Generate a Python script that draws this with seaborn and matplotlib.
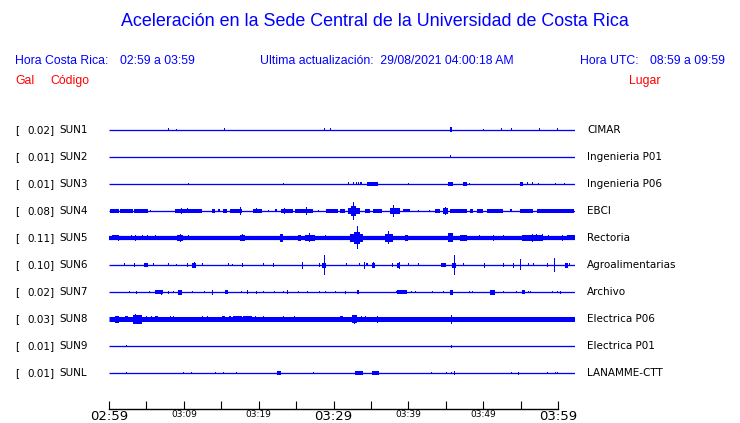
import matplotlib
matplotlib.use("Agg")
import matplotlib.pyplot as plt
import matplotlib.transforms as mtransforms
import pandas as pd
import seaborn as sns

# station metadata
stations = ["SUN1", "SUN2", "SUN3", "SUN4", "SUN5", "SUN6", "SUN7", "SUN8", "SUN9", "SUNL"]
peak_gal = ["0.02", "0.01", "0.01", "0.08", "0.11", "0.10", "0.02", "0.03", "0.01", "0.01"]
places = ["CIMAR", "Ingenieria P01", "Ingenieria P06", "EBCI", "Rectoria",
          "Agroalimentarias", "Archivo", "Electrica P06", "Electrica P01", "LANAMME-CTT"]

# trace span in minutes after 02:59 and base trace thickness (px)
trace_span = [0.0, 62.27]
base_px = [1.3, 1.3, 1.3, 1.3, 4.2, 1.3, 1.3, 5.0, 1.3, 1.3]

tick_minutes = [0, 5, 10, 15, 20, 25, 30, 35, 40, 45, 50, 55, 60]
tick_labels = ["02:59", "", "03:09", "", "03:19", "", "03:29", "", "03:39", "", "03:49", "", "03:59"]
big_ticks = ["02:59", "03:29", "03:59"]

# bursts: (start minute, end minute, half amplitude in px)
sun1_bursts = [(7.92, 7.92, 1.5), (8.99, 8.99, 1), (15.41, 15.41, 1.5), (28.77, 28.77, 1.5),
               (29.57, 29.57, 1.5), (45.5, 45.8, 2.5), (50.02, 50.02, 1), (52.42, 52.42, 1.5),
               (53.76, 53.76, 1.5), (57.42, 57.42, 1.5), (59.91, 59.91, 1.5)]
sun2_bursts = [(45.55, 45.75, 1.5)]
sun3_bursts = [(10.6, 10.6, 1), (23.29, 23.29, 1), (31.98, 31.98, 1.5), (32.56, 32.56, 1.5),
               (32.97, 32.97, 1.5), (33.32, 33.32, 1.5), (33.6, 33.75, 1.5), (34.44, 36.0, 2),
               (39.92, 39.92, 1), (45.34, 45.92, 2), (47.27, 47.88, 2), (48.07, 48.07, 1),
               (54.92, 55.37, 2), (55.9, 55.9, 1.5), (56.49, 56.49, 1.5), (57.37, 57.37, 1),
               (59.64, 59.64, 1), (60.8, 60.8, 1)]
sun4_bursts = [(0.13, 1.3, 1.7), (1.5, 3.2, 1.7), (3.3, 5.25, 1.7), (5.5, 5.5, 1),
               (8.82, 12.39, 1.7), (9.62, 9.62, 3), (10.38, 10.38, 2.5), (13.72, 14.16, 1.7),
               (14.6, 14.8, 1.5), (15.27, 15.72, 1.7), (16.17, 17.73, 2), (17.51, 17.51, 4),
               (19.2, 20.4, 2), (19.7, 19.7, 2.5), (21.2, 21.2, 1.2), (22.18, 22.41, 1.5),
               (22.99, 24.63, 2), (23.43, 23.43, 3), (24.86, 27.3, 2), (26.28, 26.28, 4),
               (27.97, 27.97, 1.2), (28.96, 30.64, 2), (30.87, 31.54, 2), (31.98, 33.54, 3),
               (32.3, 33.0, 5), (32.65, 32.65, 9), (34.21, 34.88, 2), (35.32, 36.44, 2),
               (37.55, 38.89, 3), (37.99, 37.99, 6), (39.33, 40.22, 1.5), (41.25, 41.25, 1.2),
               (42.8, 42.8, 1.2), (43.57, 44.23, 2), (44.67, 45.34, 3), (44.9, 44.9, 4),
               (45.57, 47.8, 2), (48.24, 48.68, 2), (49.13, 50.02, 2), (50.47, 52.69, 2),
               (53.59, 53.8, 1.5), (54.92, 56.7, 2), (57.15, 62.2, 2)]
sun5_bursts = [(0.36, 1.25, 2.5), (1.16, 1.16, 3.2), (3.0, 3.0, 2.5), (3.47, 3.47, 2.8),
               (4.4, 4.4, 2.5), (5.1, 5.1, 2.5), (6.2, 6.2, 2.5), (9.05, 9.93, 3.3),
               (9.5, 9.5, 3.8), (10.5, 10.5, 2.5), (17.51, 18.17, 3), (17.8, 17.8, 3.5),
               (22.85, 23.29, 4), (25.3, 25.6, 2.8), (26.19, 27.53, 3), (26.73, 26.73, 4.5),
               (28.9, 28.9, 2.5), (32.21, 33.98, 4), (32.7, 33.6, 6), (33.18, 33.18, 11.5),
               (36.88, 37.99, 4), (37.32, 37.32, 6.5), (39.6, 40.0, 3), (45.34, 46.0, 4.5),
               (46.9, 47.8, 3), (49.5, 49.5, 2.5), (51.36, 51.36, 3), (52.6, 52.6, 2.5),
               (55.14, 58.03, 3), (56.49, 56.49, 4), (57.1, 57.1, 3.5), (57.8, 57.8, 3.5),
               (58.6, 58.6, 2.5), (60.49, 60.49, 3), (61.16, 62.27, 2.5)]
sun6_bursts = [(2.0, 2.0, 1.5), (3.34, 3.34, 2), (4.72, 5.25, 1.7), (5.92, 5.92, 1.5),
               (7.92, 7.92, 1.5), (8.91, 8.91, 1), (10.46, 10.46, 2), (11.13, 11.58, 2.5),
               (11.3, 11.3, 3), (12.47, 12.47, 1.5), (15.86, 15.86, 1.5), (16.4, 16.4, 1),
               (17.73, 17.95, 1.7), (20.54, 20.54, 1.5), (21.96, 21.96, 2), (25.75, 25.75, 3.5),
               (28.06, 28.06, 2), (28.5, 29.04, 2.5), (28.69, 28.69, 10), (31.63, 31.63, 1.5),
               (33.41, 33.41, 1.5), (34.12, 34.12, 3.5), (34.3, 34.6, 1.5), (35.2, 35.5, 2.5),
               (35.32, 35.32, 3.3), (37.77, 37.77, 2), (38.52, 38.75, 2.5), (38.7, 38.7, 3.5),
               (40.0, 40.0, 1.5), (41.25, 41.25, 1.5), (44.37, 45.0, 1.7), (45.9, 46.4, 2.5),
               (46.14, 46.14, 10), (47.27, 47.27, 1.5), (50.15, 50.15, 2.5), (52.69, 52.69, 2),
               (54.03, 54.03, 2.5), (54.97, 54.97, 5.5), (55.94, 55.94, 1.5), (56.7, 56.7, 1.5),
               (58.49, 58.49, 2), (59.51, 59.51, 7), (61.0, 61.3, 2.5), (61.51, 61.51, 1.5)]
sun7_bursts = [(2.72, 2.72, 1), (3.61, 3.61, 1.5), (5.39, 5.39, 1), (6.15, 7.26, 2),
               (7.0, 7.0, 2.5), (7.84, 7.84, 1.5), (8.6, 8.6, 1), (9.18, 9.71, 2.5),
               (11.05, 11.05, 1), (12.74, 12.74, 1), (13.81, 13.81, 2.5), (15.5, 15.94, 1.7),
               (17.6, 17.6, 1), (18.4, 18.4, 2), (19.64, 19.64, 1.5), (20.6, 20.6, 1),
               (22.1, 22.1, 1), (23.2, 23.2, 1), (23.74, 23.74, 1.7), (25.3, 25.3, 1),
               (26.5, 26.5, 1), (28.1, 28.1, 1), (28.9, 28.9, 1), (30.2, 30.2, 1),
               (31.54, 31.54, 1.5), (33.1, 33.4, 2), (38.3, 38.3, 1), (38.52, 39.78, 1.7),
               (40.3, 40.3, 1), (40.9, 40.9, 1), (43.12, 43.12, 1), (44.6, 44.6, 1),
               (45.57, 46.0, 2.5), (48.1, 48.1, 1), (48.5, 48.5, 1), (50.92, 51.58, 2.5),
               (52.6, 52.6, 1), (54.4, 54.4, 1), (55.14, 55.59, 2), (56.0, 56.0, 1),
               (56.2, 56.2, 1), (59.2, 59.2, 1), (59.8, 59.8, 1), (60.27, 60.27, 1.5)]
sun8_bursts = [(0.8, 1.34, 3.5), (2.14, 2.5, 3), (3.25, 4.37, 4.5), (3.5, 3.5, 5),
               (4.1, 4.1, 4.5), (4.9, 4.9, 3), (5.57, 5.57, 3), (6.15, 6.51, 3),
               (8.2, 8.2, 3), (8.6, 8.6, 3), (12.39, 12.39, 3), (13.05, 13.05, 3),
               (15.06, 15.5, 3.2), (16.1, 16.1, 3), (16.61, 17.73, 3.2), (17.95, 19.07, 3.2),
               (19.51, 19.51, 3.2), (20.62, 20.62, 3), (23.3, 23.3, 2.8), (24.7, 24.7, 2.8),
               (30.9, 31.3, 3), (32.43, 33.1, 4), (32.7, 32.7, 4.5), (33.7, 33.7, 3),
               (34.2, 34.2, 3), (35.77, 35.77, 3.5), (45.7, 45.7, 4.5)]
sun9_bursts = [(2.23, 2.23, 1), (45.7, 45.7, 1.5)]
sunl_bursts = [(2.27, 2.27, 1), (9.93, 9.93, 1), (10.92, 10.92, 1), (14.17, 14.17, 1),
               (15.27, 15.27, 1), (16.93, 16.93, 1), (22.41, 22.99, 1.7), (27.22, 27.22, 1.3),
               (32.87, 33.9, 1.7), (35.1, 36.08, 1.7), (43.03, 43.03, 1.3), (45.0, 45.0, 1),
               (45.7, 45.7, 1.3), (46.15, 46.15, 2), (53.72, 53.72, 1.3), (54.61, 54.61, 1.5),
               (58.49, 58.49, 1), (59.6, 59.6, 1), (59.8, 59.8, 1)]

all_bursts = [sun1_bursts, sun2_bursts, sun3_bursts, sun4_bursts, sun5_bursts,
              sun6_bursts, sun7_bursts, sun8_bursts, sun9_bursts, sunl_bursts]

BLUE = "#0000ff"
RED = "#ff0000"
W, H = 740, 423
PX_PER_TRACE = 27.0

sns.set_theme(style="white")
plt.rcParams["font.family"] = ["DejaVu Sans"]
plt.rcParams["text.color"] = "black"

fig = plt.figure(figsize=(W / 100, H / 100), dpi=100)
ax = fig.add_axes([109 / W, 14 / H, (575 - 109) / W, 299 / H])

# baselines (one row per station, long format)
rows = []
for i, st in enumerate(stations):
    for t in trace_span:
        rows.append({"station": st, "minute": t, "level": -i})
traces = pd.DataFrame(rows)

for i, st in enumerate(stations):
    sns.lineplot(data=traces[traces["station"] == st], x="minute", y="level",
                 color=BLUE, linewidth=base_px[i] * 0.72, ax=ax, legend=False,
                 solid_capstyle="butt")
    # bursts as filled blocks around the trace
    for t0, t1, amp in all_bursts[i]:
        half = amp / PX_PER_TRACE
        width = max(t1 - t0, 0.14)
        ax.bar(t0, 2 * half, width=width, bottom=-i - half, align="edge",
               color=BLUE, linewidth=0)

ax.set_xlim(trace_span)
ax.set_ylim(-9 - 36 / PX_PER_TRACE, 20 / PX_PER_TRACE)
ax.set_xlabel("")
ax.set_ylabel("")
ax.set_yticks([])
for side in ["top", "right", "left"]:
    ax.spines[side].set_visible(False)
ax.spines["bottom"].set_color("black")
ax.spines["bottom"].set_linewidth(1.0)
ax.spines["bottom"].set_bounds(tick_minutes[0], tick_minutes[-1])
ax.set_xticks(tick_minutes)
ax.set_xticklabels(tick_labels)
ax.tick_params(axis="x", direction="in", length=6, width=0.8, color="black",
               pad=0.5, bottom=True, labelcolor="black")
for lab in ax.get_xticklabels():
    if lab.get_text() in big_ticks:
        lab.set_fontsize(9.5)
    else:
        lab.set_fontsize(6.5)

# station labels on both sides
blend = mtransforms.blended_transform_factory(fig.transFigure, ax.transData)
for i, st in enumerate(stations):
    ax.text(15 / W, -i, "[", transform=blend, fontsize=7.5, va="center", ha="left",
            color="black")
    ax.text(54.5 / W, -i, f"{peak_gal[i]}]", transform=blend, fontsize=7.5,
            va="center", ha="right", color="black")
    ax.text(59 / W, -i, st, transform=blend, fontsize=7.5, va="center", ha="left",
            color="black")
    ax.text(587 / W, -i, places[i], transform=blend, fontsize=7.5, va="center",
            ha="left", color="black")

# header text
hdr = ["Liberation Sans", "DejaVu Sans"]
fig.text(375 / W, 1 - 22 / H, "Aceleración en la Sede Central de la Universidad de Costa Rica",
         ha="center", va="center", fontsize=12.9, color=BLUE, family=hdr)
fig.text(15 / W, 1 - 61 / H, "Hora Costa Rica:", ha="left", va="center",
         fontsize=8.8, color=BLUE, family=hdr)
fig.text(120 / W, 1 - 61 / H, "02:59 a 03:59", ha="left", va="center",
         fontsize=8.8, color=BLUE, family=hdr)
fig.text(260 / W, 1 - 61 / H, "Ultima actualización:  29/08/2021 04:00:18 AM",
         ha="left", va="center", fontsize=8.8, color=BLUE, family=hdr)
fig.text(580 / W, 1 - 61 / H, "Hora UTC:", ha="left", va="center",
         fontsize=8.8, color=BLUE, family=hdr)
fig.text(725 / W, 1 - 61 / H, "08:59 a 09:59", ha="right", va="center",
         fontsize=8.8, color=BLUE, family=hdr)
fig.text(15 / W, 1 - 81 / H, "Gal", ha="left", va="center",
         fontsize=8.8, color=RED, family=hdr)
fig.text(50 / W, 1 - 81 / H, "Código", ha="left", va="center",
         fontsize=8.8, color=RED, family=hdr)
fig.text(629 / W, 1 - 81 / H, "Lugar", ha="left", va="center",
         fontsize=8.8, color=RED, family=hdr)

fig.savefig("out.png", dpi=100, facecolor="white")
